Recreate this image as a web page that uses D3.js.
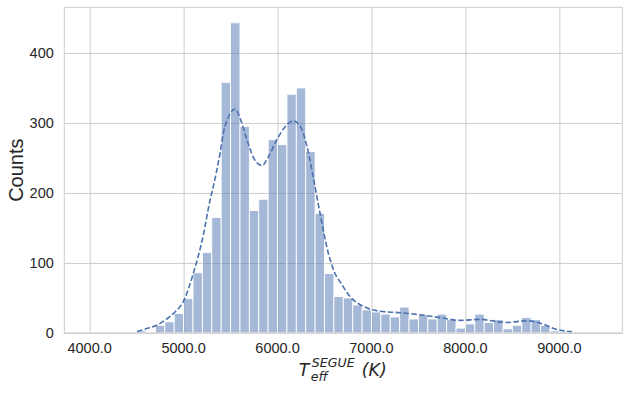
<!DOCTYPE html>
<html>
<head>
<meta charset="utf-8">
<script src="https://cdn.jsdelivr.net/npm/d3@7"></script>
<style>
  body { margin: 0; background: #fff; }
  svg { display: block; }
</style>
</head>
<body>
<div id="chart"></div>
<script>
// histogram bins: left edge (K) and counts, 100 K wide
const binStarts = [4500, 4600, 4700, 4800, 4900, 5000, 5100, 5200, 5300, 5400,
                   5500, 5600, 5700, 5800, 5900, 6000, 6100, 6200, 6300, 6400,
                   6500, 6600, 6700, 6800, 6900, 7000, 7100, 7200, 7300, 7400,
                   7500, 7600, 7700, 7800, 7900, 8000, 8100, 8200, 8300, 8400,
                   8500, 8600, 8700, 8800, 8900, 9000];
const binCounts = [3, 0, 11, 16, 28, 49, 86, 115, 165, 358,
                   443, 295, 175, 191, 276, 269, 341, 350, 259, 171,
                   85, 52, 50, 40, 33, 30, 27, 23, 37, 20,
                   26, 20, 27, 19, 7, 13, 27, 15, 19, 6,
                   11, 22, 19, 11, 3, 2];
const binWidth = 100;

// KDE curve (scaled to counts)
const kdeT = [4505, 4600, 4713, 4810, 4908, 4997, 5103, 5210, 5282, 5316, 5388, 5423,
              5494, 5547, 5603, 5674, 5745, 5800, 5834, 5904, 5993, 6083, 6165,
              6243, 6314, 6385, 6452, 6541, 6630, 6666, 6772, 6914, 7092, 7305,
              7518, 7731, 7944, 8157, 8300, 8441, 8654, 8796, 8973, 9133];
const kdeC = [2, 6, 11, 19, 30, 45, 85, 140, 190, 209, 257, 285,
              313, 320, 306, 276, 250, 241, 239, 252, 276, 295, 303,
              295, 266, 219, 171, 114, 80, 73, 52, 38, 31, 29,
              26, 22, 18, 19.5, 17, 15, 17.5, 14, 5, 2];

const xTicks = [4000, 5000, 6000, 7000, 8000, 9000];
const yTicks = [0, 100, 200, 300, 400];

const width = 628, height = 394;
const margin = { top: 7.3, right: 5.7, bottom: 61, left: 64.3 };
const x0 = margin.left, x1 = width - margin.right;
const y0 = height - margin.bottom, y1 = margin.top;

const svg = d3.select('#chart').append('svg')
  .attr('width', width).attr('height', height);

const xScale = d3.scaleLinear().domain([3730, 9670]).range([x0, x1]);
const yScale = d3.scaleLinear().domain([0, 443 * 1.05]).range([y0, y1]);

const grid = '#cccccc';
const textCol = '#262626';
const tickFont = '"Liberation Sans", Arial, sans-serif';

// grid lines
svg.append('g')
  .attr('transform', `translate(0,${y0})`)
  .call(d3.axisBottom(xScale).tickValues(xTicks).tickSize(-(y0 - y1)).tickFormat(''))
  .call(g => g.select('.domain').remove())
  .selectAll('line').attr('stroke', grid).attr('stroke-width', 1);

svg.append('g')
  .attr('transform', `translate(${x0},0)`)
  .call(d3.axisLeft(yScale).tickValues(yTicks).tickSize(-(x1 - x0)).tickFormat(''))
  .call(g => g.select('.domain').remove())
  .selectAll('line').attr('stroke', grid).attr('stroke-width', 1);

// bars
const bins = binStarts.map((s, i) => ({ start: s, count: binCounts[i] }));
svg.append('g')
  .selectAll('rect')
  .data(bins.filter(d => d.count > 0))
  .join('rect')
  .attr('x', d => xScale(d.start))
  .attr('width', d => xScale(d.start + binWidth) - xScale(d.start))
  .attr('y', d => yScale(d.count))
  .attr('height', d => yScale(0) - yScale(d.count))
  .attr('fill', '#4c72b0')
  .attr('fill-opacity', 0.5)
  .attr('stroke', '#ffffff')
  .attr('stroke-width', 0.9);

// kde
const kde = kdeT.map((t, i) => [t, kdeC[i]]);
svg.append('path')
  .datum(kde)
  .attr('fill', 'none')
  .attr('stroke', '#4c72b0')
  .attr('stroke-width', 1.6)
  .attr('stroke-dasharray', '5.5,2.4')
  .attr('d', d3.line()
    .x(d => xScale(d[0]))
    .y(d => yScale(d[1]))
    .curve(d3.curveMonotoneX));

// frame
svg.append('rect')
  .attr('x', x0).attr('y', y1)
  .attr('width', x1 - x0).attr('height', y0 - y1)
  .attr('fill', 'none').attr('stroke', grid).attr('stroke-width', 1);

// tick labels
svg.append('g')
  .selectAll('text')
  .data(xTicks)
  .join('text')
  .attr('x', d => xScale(d))
  .attr('y', y0 + 20.3)
  .attr('text-anchor', 'middle')
  .attr('font-family', tickFont)
  .attr('font-size', 14.5)
  .attr('fill', textCol)
  .text(d => d.toFixed(1));

svg.append('g')
  .selectAll('text')
  .data(yTicks)
  .join('text')
  .attr('x', x0 - 10.5)
  .attr('y', d => yScale(d))
  .attr('dy', '0.36em')
  .attr('text-anchor', 'end')
  .attr('font-family', tickFont)
  .attr('font-size', 14.5)
  .attr('fill', textCol)
  .text(d => d);

// axis labels
svg.append('text')
  .attr('transform', `translate(22.5,${(y0 + y1) / 2}) rotate(-90)`)
  .attr('text-anchor', 'middle')
  .attr('font-family', tickFont)
  .attr('font-size', 20)
  .attr('fill', textCol)
  .text('Counts');

const cx = (x0 + x1) / 2;
const mathFont = '"DejaVu Sans", sans-serif';
const xl = svg.append('g')
  .attr('font-family', mathFont)
  .attr('font-style', 'italic')
  .attr('fill', textCol);
xl.append('text').attr('x', cx - 44.5).attr('y', 375.7).attr('font-size', 17.4).text('T');
xl.append('text').attr('x', cx - 31.5).attr('y', 367).attr('font-size', 12.6).text('SEGUE');
xl.append('text').attr('x', cx - 32.5).attr('y', 381).attr('font-size', 12.6).text('eff');
xl.append('text').attr('x', cx + 18.5).attr('y', 375.7).attr('font-size', 17.4).text('(K)');
</script>
</body>
</html>
